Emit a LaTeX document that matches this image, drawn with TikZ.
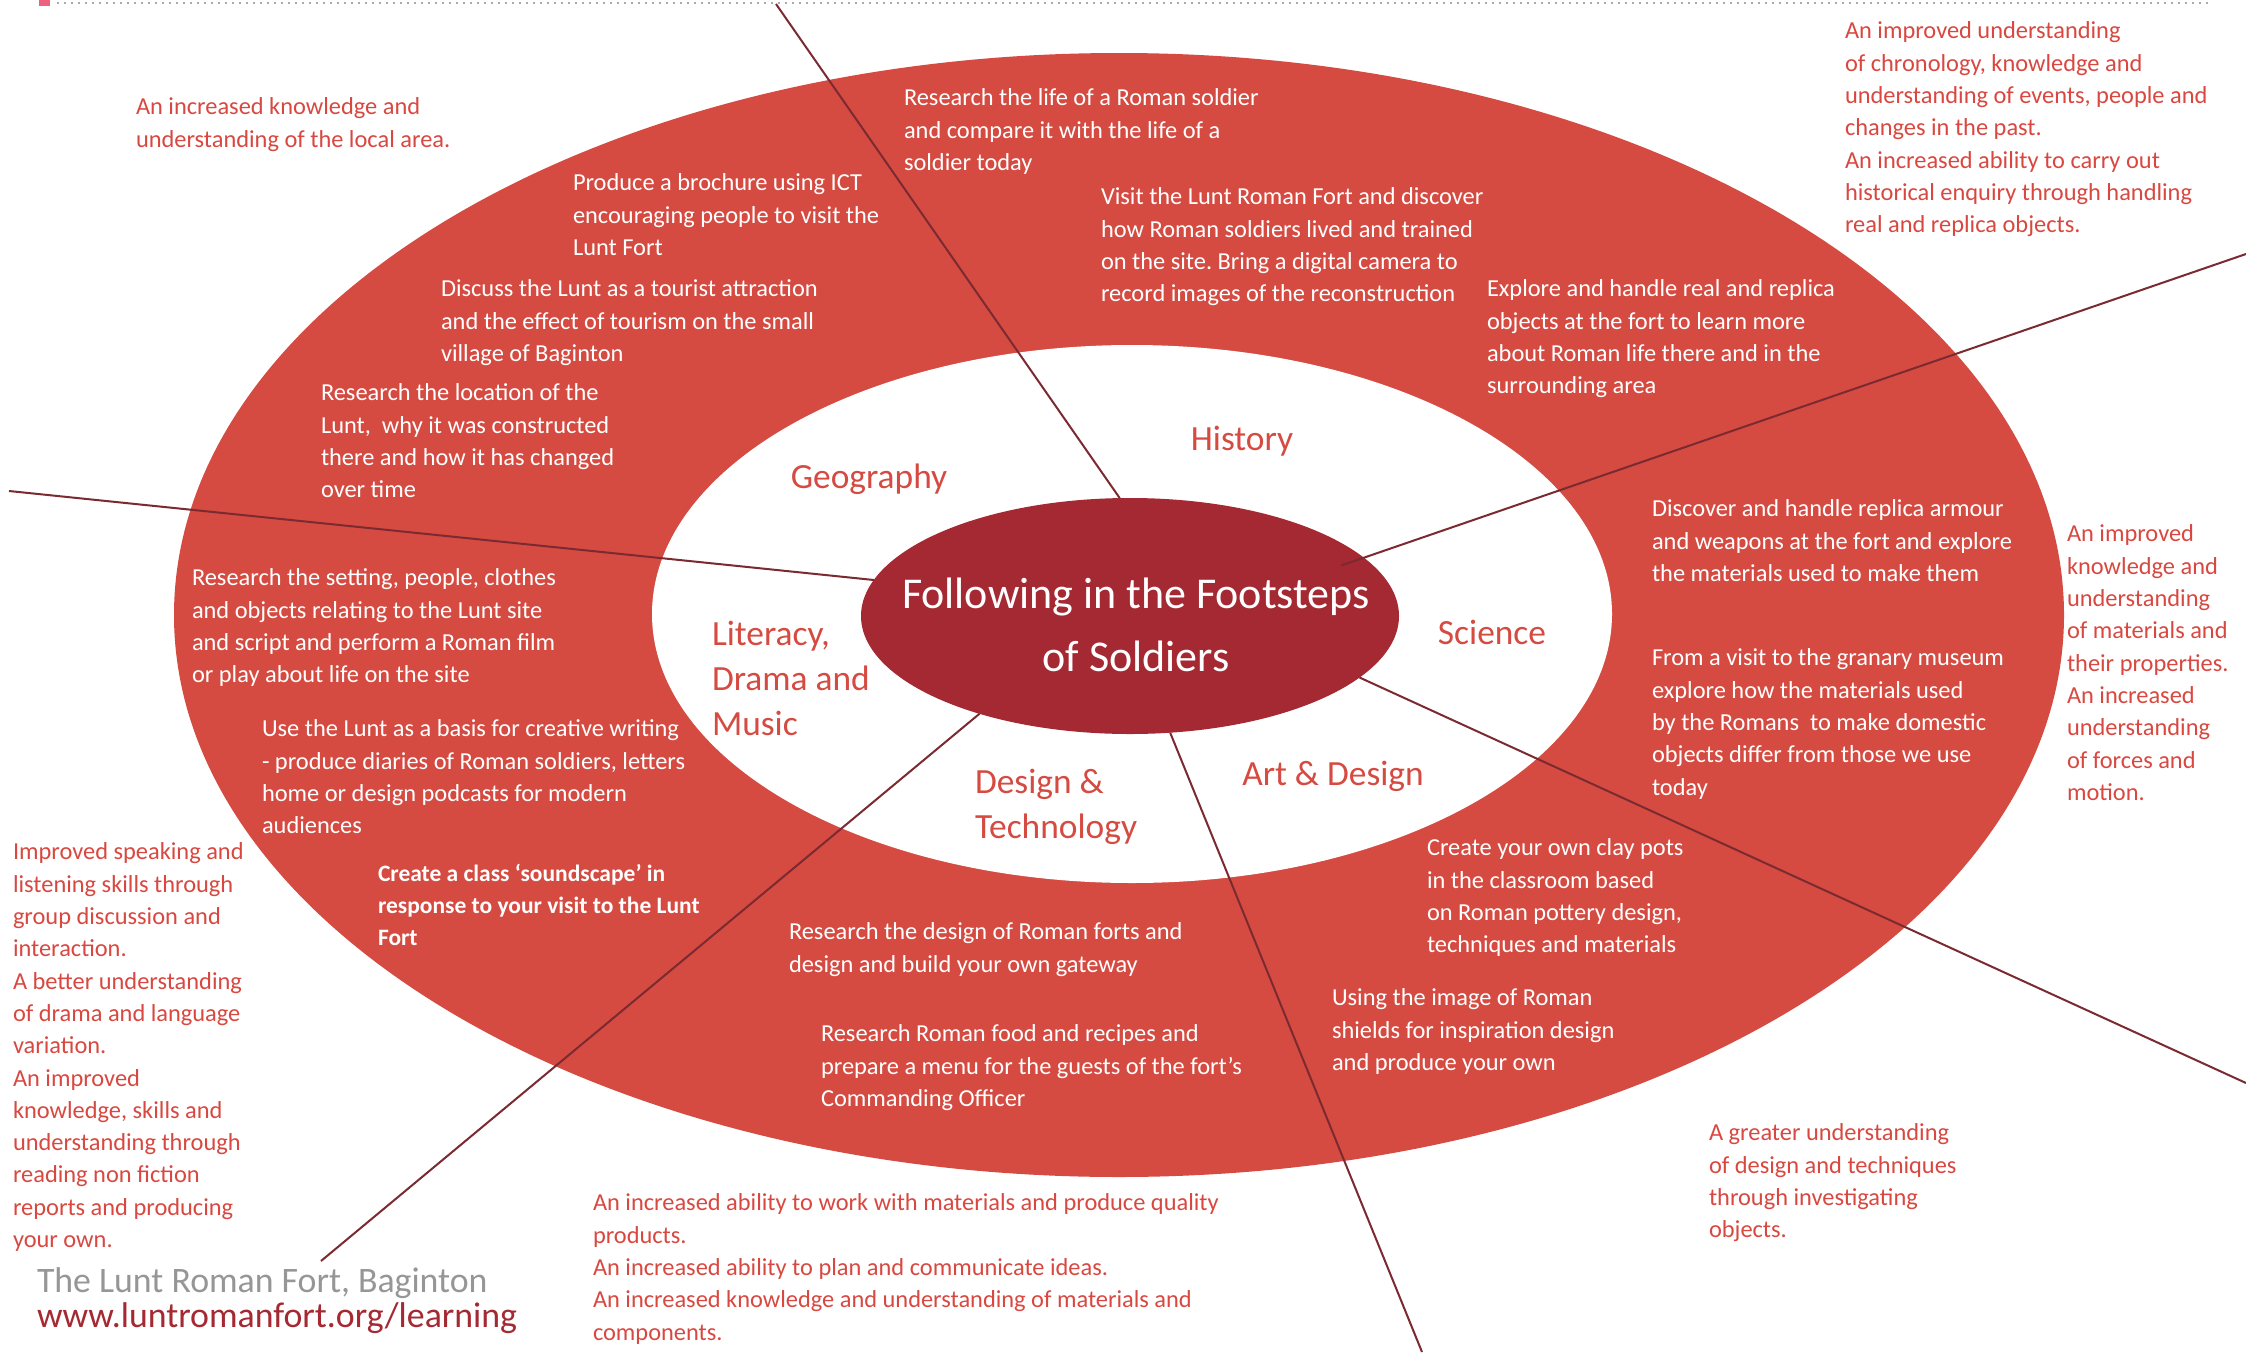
\documentclass[tikz,border=0pt]{standalone}
\usepackage{fontspec}
\setmainfont{Carlito}
\usepackage{tikz}
\usetikzlibrary{shapes.geometric, positioning}
\definecolor{ringRed}{RGB}{213, 75, 65}
\definecolor{hubRed}{RGB}{164, 41, 50}
\definecolor{spokeRed}{RGB}{122, 42, 48}
\definecolor{goalRed}{RGB}{217, 72, 64}
\definecolor{footGray}{RGB}{150, 150, 150}
\definecolor{dotGray}{RGB}{170, 170, 170}
\definecolor{markPink}{RGB}{238, 96, 128}
\frenchspacing
\begin{document}
\begin{tikzpicture}[
    x=1pt, y=-1pt,
    every node/.style={inner sep=0pt, outer sep=0pt, font=\fontsize{24.4}{32.3}\selectfont},
    act/.style={anchor=north west, align=left, text=white},
    goal/.style={anchor=north west, align=left, text=goalRed},
    subj/.style={align=left, text=ringRed, font=\fontsize{35.4}{45}\selectfont},
    hub/.style={ellipse, fill=hubRed, minimum width=538pt, minimum height=236pt},
    title/.style={align=center, text=white, font=\fontsize{44}{63}\selectfont},
    spoke/.style={draw=spokeRed, line width=2pt},
    foot/.style={anchor=west, font=\fontsize{35.8}{36}\selectfont},
]
\useasboundingbox (0,0) rectangle (2246,1352);
\fill[white] (0,0) rectangle (2246,1352);
\fill[markPink] (39,0) rectangle (50,6);
\draw[dotGray, line width=2pt, dash pattern=on 2pt off 5pt] (57,3) -- (2210,3);
\fill[ringRed] (1119,615) ellipse [x radius=945pt, y radius=562pt];
\fill[white] (1132,614) ellipse [x radius=480pt, y radius=269pt];
\node[hub] (hub) at (1130,616) {};
\coordinate (s1) at (776,4);
\coordinate (s2) at (9,491);
\coordinate (s3) at (2246,254);
\coordinate (s4) at (2246,1083);
\coordinate (s5) at (1422,1352);
\coordinate (s6) at (321,1261);
\draw[spoke] (hub.95) -- (s1);
\draw[spoke] (hub.172) -- (s2);
\draw[spoke, shorten <=-24pt] (hub.14) -- (s3);
\draw[spoke] (hub.-15) -- (s4);
\draw[spoke] (hub.-71) -- (s5);
\draw[spoke] (hub.-147) -- (s6);
\node[title] (ttl) at (1136,625) {Following in the Footsteps\\of Soldiers};
\node[subj] (hist) at (1242,441) {History};
\node[subj] (geog) at (869,479) {Geography};
\node[subj] (sci) at (1492,632) {Science};
\node[subj, anchor=north west] (lit) at (712,621) {Literacy,\\Drama and\\Music};
\node[subj, anchor=north west] (dt) at (975,769) {Design \&\\Technology};
\node[subj] (art) at (1333,776) {Art \& Design};
\node[act] (soldier) at (904,89) {Research the life of a Roman soldier\\and compare it with the life of a\\soldier today};
\node[act] (brochure) at (573,174) {Produce a brochure using ICT\\encouraging people to visit the\\Lunt Fort};
\node[act] (visit) at (1101,188) {Visit the Lunt Roman Fort and discover\\how Roman soldiers lived and trained\\on the site. Bring a digital camera to\\record images of the reconstruction};
\node[act] (tourist) at (441,280) {Discuss the Lunt as a tourist attraction\\and the effect of tourism on the small\\village of Baginton};
\node[act] (explore) at (1487,280) {Explore and handle real and replica\\objects at the fort to learn more\\about Roman life there and in the\\surrounding area};
\node[act] (location) at (321,384) {Research the location of the\\Lunt,\ \ why it was constructed\\there and how it has changed\\over time};
\node[act] (armour) at (1652,500) {Discover and handle replica armour\\and weapons at the fort and explore\\the materials used to make them};
\node[act] (setting) at (192,569) {Research the setting, people, clothes\\and objects relating to the Lunt site\\and script and perform a Roman film\\or play about life on the site};
\node[act] (granary) at (1652,649) {From a visit to the granary museum\\explore how the materials used\\by the Romans\ \ to make domestic\\objects differ from those we use\\today};
\node[act] (writing) at (262,720) {Use the Lunt as a basis for creative writing\\- produce diaries of Roman soldiers, letters\\home or design podcasts for modern\\audiences};
\node[act, font=\fontsize{23.5}{32.3}\selectfont\bfseries] (sound) at (378,864) {Create a class ‘soundscape’ in\\response to your visit to the Lunt\\Fort};
\node[act] (pots) at (1427,839) {Create your own clay pots\\in the classroom based\\on Roman pottery design,\\techniques and materials};
\node[act] (gateway) at (789,923) {Research the design of Roman forts and\\design and build your own gateway};
\node[act] (shields) at (1332,989) {Using the image of Roman\\shields for inspiration design\\and produce your own};
\node[act] (food) at (821,1025) {Research Roman food and recipes and\\prepare a menu for the guests of the fort’s\\Commanding Officer};
\node[goal] (gLocal) at (136,98) {An increased knowledge and\\understanding of the local area.};
\node[goal] (gHist) at (1845,22) {An improved understanding\\of chronology, knowledge and\\understanding of events, people and\\changes in the past.\\An increased ability to carry out\\historical enquiry through handling\\real and replica objects.};
\node[goal] (gSci) at (2067,525) {An improved\\knowledge and\\understanding\\of materials and\\their properties.\\An increased\\understanding\\of forces and\\motion.};
\node[goal] (gLit) at (13,843) {Improved speaking and\\listening skills through\\group discussion and\\interaction.\\A better understanding\\of drama and language\\variation.\\An improved\\knowledge, skills and\\understanding through\\reading non fiction\\reports and producing\\your own.};
\node[goal] (gArt) at (1709,1124) {A greater understanding\\of design and techniques\\through investigating\\objects.};
\node[goal] (gDT) at (593,1194) {An increased ability to work with materials and produce quality\\products.\\An increased ability to plan and communicate ideas.\\An increased knowledge and understanding of materials and\\components.};
\node[foot, text=footGray] (fort) at (37,1283) {The Lunt Roman Fort, Baginton};
\node[foot, text=hubRed] (url) at (37,1318) {www.luntromanfort.org/learning};
\end{tikzpicture}
\end{document}
